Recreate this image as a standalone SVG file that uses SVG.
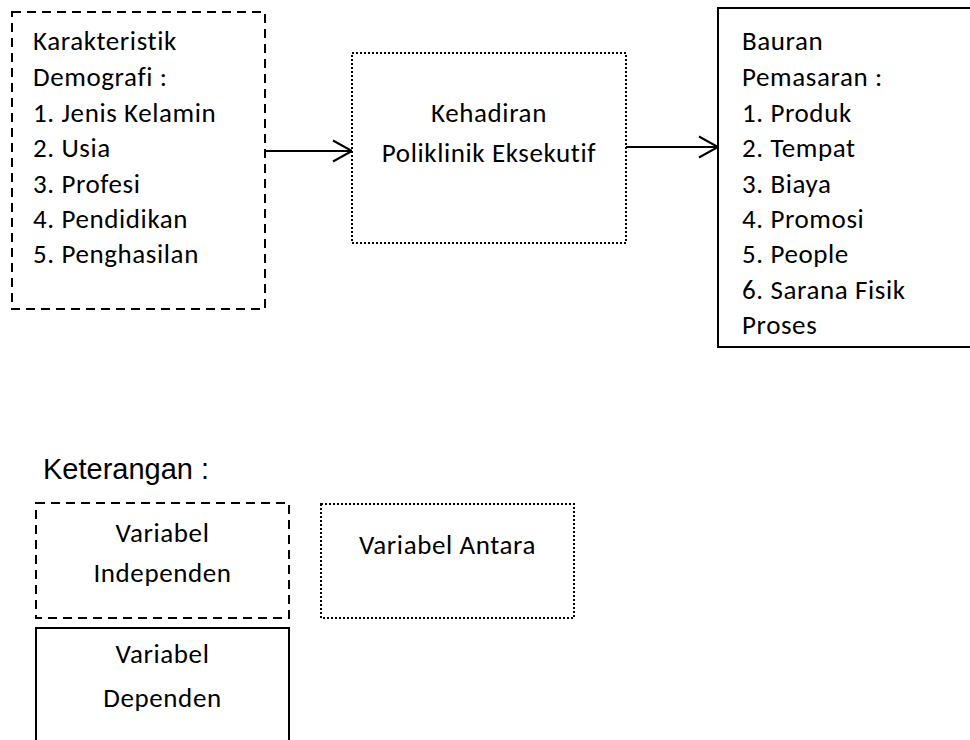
<svg xmlns="http://www.w3.org/2000/svg" width="970" height="740" viewBox="0 0 970 740">
<defs>
<style>
.t{font-family:"Carlito","Open Sans","DejaVu Sans",sans-serif;font-size:27px;letter-spacing:0.6px;fill:#000;font-variant-ligatures:none;font-feature-settings:"liga" 0,"clig" 0}
.c{text-anchor:middle}
.k{font-family:"Liberation Sans",Arial,sans-serif;font-size:29px;fill:#000}
.dash{fill:#fff;stroke:#000;stroke-width:2;stroke-dasharray:9 6}
.dot{fill:#fff;stroke:#000;stroke-width:2;stroke-dasharray:2 2}
.solid{fill:#fff;stroke:#000;stroke-width:2}
.edge{stroke:#000;stroke-width:2;fill:none}
</style>
<marker id="arr" markerUnits="userSpaceOnUse" markerWidth="24" markerHeight="26" refX="19" refY="11" orient="auto" overflow="visible">
<path d="M0,0.5 L19,11 L0,21.5" fill="none" stroke="#000" stroke-width="2"/>
</marker>
</defs>
<rect width="970" height="740" fill="#fff"/>

<g id="connectors">
<line class="edge" x1="265" y1="151" x2="352" y2="151" marker-end="url(#arr)"/>
<line class="edge" x1="626" y1="147" x2="718" y2="147" marker-end="url(#arr)"/>
</g>

<g id="node-demografi">
<rect class="dash" x="12" y="12" width="253" height="297"/>
<text class="t" x="33" y="50">Karakteristik</text>
<text class="t" x="33" y="86">Demografi :</text>
<text class="t" x="33" y="122">1. Jenis Kelamin</text>
<text class="t" x="33" y="157">2. Usia</text>
<text class="t" x="33" y="193">3. Profesi</text>
<text class="t" x="33" y="228">4. Pendidikan</text>
<text class="t" x="33" y="263">5. Penghasilan</text>
</g>

<g id="node-kehadiran">
<rect class="dot" x="352" y="53" width="274" height="190"/>
<text class="t c" x="489" y="122">Kehadiran</text>
<text class="t c" x="489" y="162">Poliklinik Eksekutif</text>
</g>

<g id="node-bauran">
<rect class="solid" x="718" y="8" width="262" height="339"/>
<text class="t" x="742" y="50">Bauran</text>
<text class="t" x="742" y="86">Pemasaran :</text>
<text class="t" x="742" y="122">1. Produk</text>
<text class="t" x="742" y="157">2. Tempat</text>
<text class="t" x="742" y="193">3. Biaya</text>
<text class="t" x="742" y="228">4. Promosi</text>
<text class="t" x="742" y="263">5. People</text>
<text class="t" x="742" y="299">6. Sarana Fisik</text>
<text class="t" x="742" y="334">Proses</text>
</g>

<g id="legend">
<text class="k" x="43" y="479">Keterangan :</text>
<g id="legend-independen">
<rect class="dash" x="36" y="503" width="253" height="115"/>
<text class="t c" x="162.5" y="542">Variabel</text>
<text class="t c" x="162.5" y="582">Independen</text>
</g>
<g id="legend-antara">
<rect class="dot" x="321" y="504" width="253" height="114"/>
<text class="t c" x="447.5" y="554">Variabel Antara</text>
</g>
<g id="legend-dependen">
<rect class="solid" x="36" y="628" width="253" height="130"/>
<text class="t c" x="162.5" y="663">Variabel</text>
<text class="t c" x="162.5" y="707">Dependen</text>
</g>
</g>
</svg>
